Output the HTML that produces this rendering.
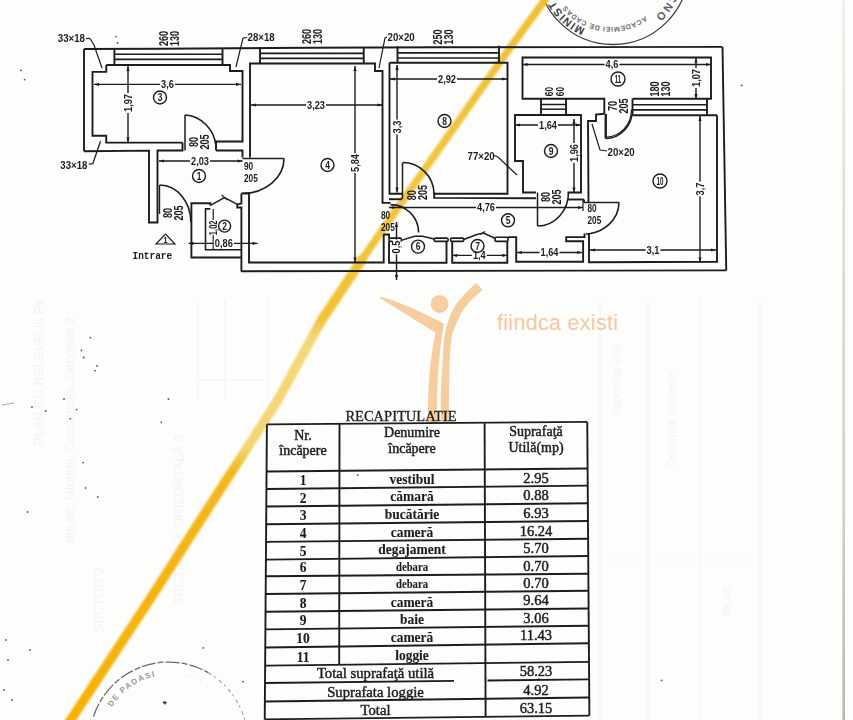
<!DOCTYPE html><html><head><meta charset="utf-8"><style>html,body{margin:0;padding:0;background:#fdfdfc;}svg{display:block}</style></head><body>
<svg width="853" height="720" viewBox="0 0 853 720">
<rect width="853" height="720" fill="#fdfdfc"/>
<defs><linearGradient id="eg" gradientUnits="userSpaceOnUse" x1="0" y1="0" x2="0" y2="720"><stop offset="0" stop-color="#efefec"/><stop offset="0.3" stop-color="#dcdcd8"/><stop offset="0.7" stop-color="#d0d0ca"/><stop offset="1" stop-color="#b8b8aa"/></linearGradient></defs>
<line x1="843.7" y1="0" x2="843.7" y2="720" stroke="url(#eg)" stroke-width="2.6"/>
<text x="0" y="0" transform="translate(43 372) rotate(-90)" font-family="Liberation Sans" font-size="13" text-anchor="middle" fill="#f4f4f2">PLAN CU RELEVEUL Pe</text>
<text x="0" y="0" transform="translate(74 430) rotate(-90)" font-family="Liberation Sans" font-size="13" text-anchor="middle" fill="#f4f4f2">din str. Mioriţei, Construcţia Zatogove 2</text>
<text x="0" y="0" transform="translate(183 520) rotate(-90)" font-family="Liberation Sans" font-size="13" text-anchor="middle" fill="#f4f4f2">SECŢIUNEA ORIZONTALĂ  3</text>
<text x="0" y="0" transform="translate(103 600) rotate(-90)" font-family="Liberation Sans" font-size="13" text-anchor="middle" fill="#f4f4f2">SECTOR 2</text>
<g stroke="#f4f4f2" stroke-width="1.2" fill="none"><path d="M198,300 V400 M225,300 V400 M268,300 V400 M198,380 H268"/><path d="M600,300 V720 M648,300 V720 M700,300 V720 M760,300 V720 M600,560 H760"/></g>
<text x="0" y="0" transform="translate(620 380) rotate(-90)" font-family="Liberation Sans" font-size="11" text-anchor="middle" fill="#f4f4f2">Suprafaţa utilă</text>
<text x="0" y="0" transform="translate(675 420) rotate(-90)" font-family="Liberation Sans" font-size="11" text-anchor="middle" fill="#f4f4f2">Denumire încăpere</text>
<text x="0" y="0" transform="translate(730 600) rotate(-90)" font-family="Liberation Sans" font-size="11" text-anchor="middle" fill="#f4f4f2">Nr. crt.</text>
<circle cx="90.4" cy="337.7" r="0.9" fill="#555"/>
<circle cx="81.5" cy="350.5" r="0.9" fill="#555"/>
<circle cx="83.7" cy="357.5" r="0.9" fill="#555"/>
<circle cx="97" cy="366" r="0.9" fill="#555"/>
<circle cx="95" cy="370.6" r="0.9" fill="#555"/>
<circle cx="32" cy="407" r="0.9" fill="#555"/>
<circle cx="76.7" cy="409.6" r="0.9" fill="#555"/>
<circle cx="70.3" cy="418.6" r="0.9" fill="#555"/>
<circle cx="168.4" cy="399" r="0.9" fill="#555"/>
<circle cx="161.3" cy="422.4" r="0.9" fill="#555"/>
<circle cx="83" cy="462.6" r="0.9" fill="#555"/>
<circle cx="85.6" cy="488" r="0.9" fill="#555"/>
<circle cx="203.3" cy="647.9" r="0.9" fill="#555"/>
<circle cx="163.7" cy="702.7" r="0.9" fill="#555"/>
<circle cx="243" cy="681.7" r="0.9" fill="#555"/>
<circle cx="357.8" cy="474.9" r="0.9" fill="#555"/>
<circle cx="539" cy="679" r="0.9" fill="#555"/>
<circle cx="116" cy="36.6" r="0.9" fill="#555"/>
<circle cx="117.6" cy="43" r="0.9" fill="#555"/>
<circle cx="21" cy="70.4" r="0.9" fill="#555"/>
<circle cx="24.6" cy="79.6" r="0.9" fill="#555"/>
<circle cx="741.7" cy="85.4" r="0.9" fill="#555"/>
<circle cx="661.6" cy="680.4" r="0.9" fill="#555"/>
<circle cx="64" cy="399" r="0.9" fill="#555"/>
<circle cx="45.8" cy="411" r="0.9" fill="#555"/>
<circle cx="27.5" cy="512" r="0.9" fill="#555"/>
<circle cx="97.8" cy="497" r="0.9" fill="#555"/>
<circle cx="6" cy="640" r="0.9" fill="#555"/>
<circle cx="8" cy="660" r="0.9" fill="#555"/>
<circle cx="4" cy="690" r="0.9" fill="#555"/>
<circle cx="12" cy="700" r="0.9" fill="#555"/>
<circle cx="30" cy="650" r="0.9" fill="#555"/>
<path d="M2,405 L14,403" stroke="#aaa" stroke-width="1"/>
<defs><path id="stk" d="M540,-31 A75,75 0 0 0 690,-31"/><path id="stk2" d="M678,-31 A65,65 0 0 1 548,-31"/><path id="stk3" d="M671,-31 A58,58 0 0 1 555,-31"/><path id="stb" d="M102.6,741 A66,66 0 0 1 234.6,741"/><filter id="soft" x="-5%" y="-5%" width="110%" height="110%"><feGaussianBlur stdDeviation="0.9"/></filter><linearGradient id="yg" gradientUnits="userSpaceOnUse" x1="0" y1="0" x2="0" y2="720"><stop offset="0" stop-color="#efc035"/><stop offset="0.25" stop-color="#f0c642"/><stop offset="0.44" stop-color="#f0c232"/><stop offset="0.47" stop-color="#f3d877"/><stop offset="0.62" stop-color="#f3d673"/><stop offset="0.655" stop-color="#f2b81e"/><stop offset="1" stop-color="#f6b002"/></linearGradient></defs>
<circle cx="613" cy="-31" r="75.5" fill="none" stroke="#3e414c" stroke-width="1.3"/>
<g transform="translate(-2,0)"><text font-family="Liberation Sans" font-size="11" font-weight="bold" fill="#3e414c" letter-spacing="1"><textPath href="#stk2" startOffset="63%">MINIST</textPath></text>
<text font-family="Liberation Sans" font-size="7" font-weight="bold" fill="#6a6d76" letter-spacing="0.6"><textPath href="#stk3" startOffset="30%">ACADEMIEI DE CADAS</textPath></text>
<text font-family="Liberation Sans" font-size="11" font-weight="bold" fill="#5a5d66" letter-spacing="2"><textPath href="#stk2" startOffset="12%">CNO</textPath></text></g>
<path d="M93.5,716.6 A79,79 0 0 1 208.1,672.6" fill="none" stroke="#6a6a6a" stroke-width="1.3" stroke-dasharray="14 2 6 2"/>
<path d="M208.1,672.6 A79,79 0 0 1 247.6,741" fill="none" stroke="#9c9c9c" stroke-width="1.1" stroke-dasharray="4 3 2 4"/>
<text font-family="Liberation Sans" font-size="8" font-weight="bold" fill="#999" letter-spacing="1.4"><textPath href="#stb" startOffset="17%">DE PADASI</textPath></text>
<text font-family="Liberation Sans" font-size="7.5" fill="#b0b0b0" letter-spacing="1.5"><textPath href="#stb" startOffset="58%">· · · ·</textPath></text>
<path d="M163,701 l4,1 l-2,3 z" fill="#333"/>
<circle cx="439.6" cy="303.9" r="9" fill="#f7cda0"/>
<path d="M379.7,296.5 C395.3,300.4 420.5,311.1 443.8,323.7 L437,333.4 L379.7,297.9 Z" fill="#f7cda0"/>
<path d="M437,326 L443.8,323.7 Q436,370 437,423 L428,423 Q427,368 437,326 Z" fill="#f7cda0"/>
<path d="M482.7,289.7 C480.67,291.58 474.07,297.12 470.5,301 C466.93,304.88 463.80,308.83 461.3,313 C458.80,317.17 457.12,321.78 455.5,326 C453.88,330.22 452.60,330.97 451.6,338.3 C450.60,345.63 449.95,355.88 449.5,370 C449.05,384.12 449.00,414.17 448.9,423 L440.9,423 C440.92,417.50 440.72,400.50 441,390 C441.28,379.50 441.97,369.27 442.6,360 C443.23,350.73 443.68,341.40 444.8,334.4 C445.92,327.40 447.52,322.85 449.3,318 C451.08,313.15 452.97,309.22 455.5,305.3 C458.03,301.38 461.10,298.23 464.5,294.5 C467.90,290.77 474.00,284.83 475.9,282.9 Z" fill="#f7cda0"/>
<text x="0" y="0" font-family="Liberation Sans" font-size="21.5" text-anchor="start" font-weight="normal" fill="#f3c8a2" transform="translate(497 330)" letter-spacing="0.3">fiindca existi</text>
<path d="M547,-3 L512,45 L403.3,200 L361.7,260" fill="none" stroke="url(#yg)" stroke-width="7.5" stroke-linecap="round" stroke-linejoin="round" filter="url(#soft)"/>
<path d="M361.7,260 L321.7,320 L277.8,400 L245.8,450 L213.5,500 L149.5,600 L70.7,720 L68,724" fill="none" stroke="url(#yg)" stroke-width="9.5" stroke-linecap="round" stroke-linejoin="round" filter="url(#soft)"/>
<defs><filter id="scan" x="-2%" y="-2%" width="104%" height="104%"><feGaussianBlur stdDeviation="0.45"/></filter></defs><g filter="url(#scan)">
<polyline points="84,49 160,48.7 310,47.8 440,47.3 722.5,46.9" fill="none" stroke="#1d1d1d" stroke-width="1.9" stroke-linejoin="miter"/>
<line x1="84" y1="49" x2="84" y2="151.3" stroke="#1d1d1d" stroke-width="1.9"/>
<polyline points="84,151.3 149,150.6 149,222.5 157.5,222.5 157.5,150.5 182.5,150.5 182.5,142.5" fill="none" stroke="#1d1d1d" stroke-width="1.9" stroke-linejoin="miter"/>
<polyline points="216,150.5 242.5,150.5 242.5,157.5" fill="none" stroke="#1d1d1d" stroke-width="1.9" stroke-linejoin="miter"/>
<line x1="722.5" y1="46.9" x2="726.25" y2="270.4" stroke="#1d1d1d" stroke-width="1.9"/>
<line x1="241" y1="271.2" x2="726.25" y2="270.4" stroke="#1d1d1d" stroke-width="1.9"/>
<polyline points="106.25,65 106.25,71.9 92.5,71.9 92.5,135.8 106.2,135.8 106.2,142.6 182.5,142.6" fill="none" stroke="#1d1d1d" stroke-width="1.9" stroke-linejoin="miter"/>
<polyline points="216,150.5 216,141.5 242.5,141.5 242.5,71 230,71 230,65 106.25,65" fill="none" stroke="#1d1d1d" stroke-width="1.9" stroke-linejoin="miter"/>
<line x1="114.4" y1="54.3" x2="222.5" y2="54.3" stroke="#1d1d1d" stroke-width="1.6"/>
<line x1="114.4" y1="59.4" x2="222.5" y2="59.4" stroke="#1d1d1d" stroke-width="1.6"/>
<line x1="114.4" y1="49" x2="114.4" y2="65" stroke="#1d1d1d" stroke-width="1.9"/>
<line x1="222.5" y1="49" x2="222.5" y2="65" stroke="#1d1d1d" stroke-width="1.9"/>
<line x1="185" y1="115" x2="185" y2="150.5" stroke="#1d1d1d" stroke-width="1.5"/>
<path d="M185,115 A33,35 0 0 1 216,146" fill="none" stroke="#1d1d1d" stroke-width="1.6"/>
<polyline points="250,157.5 250,63.5 375,63.5 375,71 382.5,71 382.5,202.9 390.6,202.9" fill="none" stroke="#1d1d1d" stroke-width="1.9" stroke-linejoin="miter"/>
<line x1="260" y1="53.4" x2="363.75" y2="53.4" stroke="#1d1d1d" stroke-width="1.6"/>
<line x1="260" y1="58.4" x2="363.75" y2="58.4" stroke="#1d1d1d" stroke-width="1.6"/>
<line x1="260" y1="47.3" x2="260" y2="63.5" stroke="#1d1d1d" stroke-width="1.9"/>
<line x1="363.75" y1="46.9" x2="363.75" y2="63.5" stroke="#1d1d1d" stroke-width="1.9"/>
<polyline points="249,192.5 249,262.5 383.7,262.5 383.7,234" fill="none" stroke="#1d1d1d" stroke-width="1.9" stroke-linejoin="miter"/>
<line x1="242.5" y1="158.5" x2="284" y2="158.5" stroke="#1d1d1d" stroke-width="1.5"/>
<path d="M284,158.5 A42,35 0 0 1 242.5,193.5" fill="none" stroke="#1d1d1d" stroke-width="1.6"/>
<line x1="159.5" y1="185" x2="159.5" y2="214" stroke="#1d1d1d" stroke-width="1.4"/>
<path d="M159.7,185 A31.2,37.3 0 0 1 190.9,222.3" fill="none" stroke="#1d1d1d" stroke-width="1.6"/>
<polyline points="241.4,193.4 249.2,193.4" fill="none" stroke="#1d1d1d" stroke-width="1.9" stroke-linejoin="miter"/>
<polyline points="241.4,193.4 241.4,203.5 237.3,204.4 237.3,207.5 241.4,207.5 241.4,271.5" fill="none" stroke="#1d1d1d" stroke-width="1.9" stroke-linejoin="miter"/>
<polyline points="210.4,205.4 210.4,203.2 191.4,203.2 191.4,257.5 241.4,257.5" fill="none" stroke="#1d1d1d" stroke-width="1.9" stroke-linejoin="miter"/>
<polyline points="210.4,208.9 205.5,208.9 205.5,249.7 241.4,249.7" fill="none" stroke="#1d1d1d" stroke-width="1.6" stroke-linejoin="miter"/>
<polyline points="210.4,205.4 224.5,197.6 237.3,204.4" fill="none" stroke="#1d1d1d" stroke-width="1.4" stroke-linejoin="miter"/>
<line x1="221.5" y1="195" x2="227.5" y2="200" stroke="#1d1d1d" stroke-width="1.2"/>
<line x1="213.2" y1="209" x2="213.2" y2="249.7" stroke="#1d1d1d" stroke-width="1.2"/>
<line x1="397.5" y1="52.9" x2="499" y2="52.9" stroke="#1d1d1d" stroke-width="1.6"/>
<line x1="397.5" y1="58" x2="499" y2="58" stroke="#1d1d1d" stroke-width="1.6"/>
<line x1="397.5" y1="46.3" x2="397.5" y2="62.8" stroke="#1d1d1d" stroke-width="1.9"/>
<line x1="499" y1="45.8" x2="499" y2="62.8" stroke="#1d1d1d" stroke-width="1.9"/>
<polyline points="389.5,62.8 507.5,62.8 507.5,193.75 434,193.75" fill="none" stroke="#1d1d1d" stroke-width="1.9" stroke-linejoin="miter"/>
<polyline points="402,193.75 389.5,193.75 389.5,62.8" fill="none" stroke="#1d1d1d" stroke-width="1.9" stroke-linejoin="miter"/>
<line x1="402.5" y1="163" x2="402.5" y2="199" stroke="#1d1d1d" stroke-width="1.5"/>
<path d="M402.5,162.5 A31.5,31.5 0 0 1 434,193.75" fill="none" stroke="#1d1d1d" stroke-width="1.6"/>
<polyline points="434.2,192.5 434.2,197.9 536,198.2" fill="none" stroke="#1d1d1d" stroke-width="1.9" stroke-linejoin="miter"/>
<line x1="389" y1="199.2" x2="402.1" y2="199.2" stroke="#1d1d1d" stroke-width="1.9"/>
<line x1="567.5" y1="199.5" x2="584" y2="199.5" stroke="#1d1d1d" stroke-width="1.9"/>
<path d="M390.6,204.6 A28,28 0 0 1 418.6,232.6" fill="none" stroke="#1d1d1d" stroke-width="1.6"/>
<polyline points="383.5,234.5 389,234.5 389,238.1" fill="none" stroke="#1d1d1d" stroke-width="1.9" stroke-linejoin="miter"/>
<rect x="389" y="238.1" width="12.300000000000011" height="3.3000000000000114" rx="1.2" fill="none" stroke="#1d1d1d" stroke-width="1.6"/>
<rect x="434.2" y="238.1" width="13.900000000000034" height="3.3000000000000114" rx="1.2" fill="none" stroke="#1d1d1d" stroke-width="1.6"/>
<rect x="450.6" y="238.1" width="13.099999999999966" height="3.3000000000000114" rx="1.2" fill="none" stroke="#1d1d1d" stroke-width="1.6"/>
<rect x="495" y="237.3" width="13" height="4.099999999999994" rx="1.2" fill="none" stroke="#1d1d1d" stroke-width="1.6"/>
<polyline points="401.3,240.4 414.5,236.2 422.7,236.2 434.2,239" fill="none" stroke="#1d1d1d" stroke-width="1.5" stroke-linejoin="miter"/>
<polyline points="463.7,239.5 476.9,234.5 483.5,233 495,238.3" fill="none" stroke="#1d1d1d" stroke-width="1.5" stroke-linejoin="miter"/>
<line x1="480" y1="234.5" x2="485" y2="231.5" stroke="#1d1d1d" stroke-width="1.2"/>
<polyline points="389,241.4 389,262.8 446.5,262.8 446.5,241.4" fill="none" stroke="#1d1d1d" stroke-width="1.9" stroke-linejoin="miter"/>
<polyline points="452.2,241.4 452.2,262.8 507.3,262.8 507.3,241.4" fill="none" stroke="#1d1d1d" stroke-width="1.9" stroke-linejoin="miter"/>
<polyline points="508,237.1 516.2,237.1 516.2,261.8 583.1,261.8 583.1,241.3 566.2,241.3 566.2,237.1 584.5,237.1 584.5,233.6" fill="none" stroke="#1d1d1d" stroke-width="1.9" stroke-linejoin="miter"/>
<line x1="583" y1="200" x2="583" y2="211" stroke="#1d1d1d" stroke-width="1.2"/>
<polyline points="536,192.5 523,192.5 523,161 515,161 515,115 581,115 581,192.5 567.5,192.5" fill="none" stroke="#1d1d1d" stroke-width="1.9" stroke-linejoin="miter"/>
<line x1="537.5" y1="192.5" x2="537.5" y2="226" stroke="#1d1d1d" stroke-width="1.5"/>
<path d="M537.5,226 A31,33.5 0 0 0 568.5,192.5" fill="none" stroke="#1d1d1d" stroke-width="1.6"/>
<polyline points="541,99 541,115" fill="none" stroke="#1d1d1d" stroke-width="1.9" stroke-linejoin="miter"/>
<polyline points="566,99 566,115" fill="none" stroke="#1d1d1d" stroke-width="1.9" stroke-linejoin="miter"/>
<line x1="541" y1="104.5" x2="566" y2="104.5" stroke="#1d1d1d" stroke-width="1.5"/>
<line x1="541" y1="109.2" x2="566" y2="109.2" stroke="#1d1d1d" stroke-width="1.5"/>
<polyline points="604.3,113.8 604.3,98.8 522.5,98.8 522.5,57.5 711,57.5 711,98.8 632.5,98.8" fill="none" stroke="#1d1d1d" stroke-width="1.9" stroke-linejoin="miter"/>
<line x1="632.5" y1="104.8" x2="707" y2="104.8" stroke="#1d1d1d" stroke-width="1.6"/>
<line x1="632.5" y1="109.9" x2="707" y2="109.9" stroke="#1d1d1d" stroke-width="1.6"/>
<line x1="632.5" y1="115.3" x2="717" y2="115.3" stroke="#1d1d1d" stroke-width="1.9"/>
<line x1="632.5" y1="98.8" x2="632.5" y2="115.3" stroke="#1d1d1d" stroke-width="1.9"/>
<line x1="707" y1="98.8" x2="707" y2="115.3" stroke="#1d1d1d" stroke-width="1.9"/>
<polyline points="717,115.3 717,261.7 589,262.2 589,234" fill="none" stroke="#1d1d1d" stroke-width="1.9" stroke-linejoin="miter"/>
<polyline points="588.5,202.5 588,121 596,121 596,114.5 604.3,113.8" fill="none" stroke="#1d1d1d" stroke-width="1.9" stroke-linejoin="miter"/>
<line x1="584" y1="202.5" x2="619" y2="202.5" stroke="#1d1d1d" stroke-width="1.5"/>
<path d="M619,202.5 A35,32 0 0 1 586,234" fill="none" stroke="#1d1d1d" stroke-width="1.6"/>
<polyline points="584,199.5 584,202.5" fill="none" stroke="#1d1d1d" stroke-width="1.9" stroke-linejoin="miter"/>
<line x1="605.75" y1="113.8" x2="605.75" y2="138.6" stroke="#1d1d1d" stroke-width="2.4"/>
<path d="M605.75,138.6 A26.75,29.2 0 0 0 632.5,109.4" fill="none" stroke="#1d1d1d" stroke-width="1.5"/>
<path d="M606.5,137 A25,27.6 0 0 0 631.5,109.4" fill="none" stroke="#1d1d1d" stroke-width="1.2"/>
<line x1="94" y1="84.4" x2="241" y2="84.4" stroke="#1d1d1d" stroke-width="1.4"/>
<path d="M94,84.4 l5,-1.6 v3.2 z M241,84.4 l-5,-1.6 v3.2 z" fill="#1d1d1d"/>
<rect x="160.0782" y="80.4" width="14.8436" height="8" fill="#fdfdfc"/>
<text x="0" y="0" font-family="Liberation Sans" font-size="10.5" text-anchor="middle" font-weight="bold" fill="#1d1d1d" transform="translate(167.5 88.2) scale(0.88 1)" >3,6</text>
<line x1="128" y1="66" x2="128" y2="142.5" stroke="#1d1d1d" stroke-width="1.4"/>
<path d="M128,66 l-1.6,5 h3.2 z M128,142.5 l-1.6,-5 h3.2 z" fill="#1d1d1d"/>
<rect x="124" y="93.00948" width="8" height="19.981040000000004" fill="#fdfdfc"/>
<text x="0" y="0" font-family="Liberation Sans" font-size="10.5" text-anchor="middle" font-weight="bold" fill="#1d1d1d" transform="translate(131.8 103) rotate(-90) scale(0.88 1)" >1,97</text>
<line x1="159" y1="161" x2="242.5" y2="161" stroke="#1d1d1d" stroke-width="1.4"/>
<path d="M159,161 l5,-1.6 v3.2 z M242.5,161 l-5,-1.6 v3.2 z" fill="#1d1d1d"/>
<rect x="190.00948" y="157" width="19.981040000000004" height="8" fill="#fdfdfc"/>
<text x="0" y="0" font-family="Liberation Sans" font-size="10.5" text-anchor="middle" font-weight="bold" fill="#1d1d1d" transform="translate(200 164.8) scale(0.88 1)" >2,03</text>
<line x1="251" y1="105" x2="382.5" y2="105" stroke="#1d1d1d" stroke-width="1.4"/>
<path d="M251,105 l5,-1.6 v3.2 z M382.5,105 l-5,-1.6 v3.2 z" fill="#1d1d1d"/>
<rect x="306.00948" y="101" width="19.981040000000004" height="8" fill="#fdfdfc"/>
<text x="0" y="0" font-family="Liberation Sans" font-size="10.5" text-anchor="middle" font-weight="bold" fill="#1d1d1d" transform="translate(316 108.8) scale(0.88 1)" >3,23</text>
<line x1="355" y1="66" x2="355" y2="262.5" stroke="#1d1d1d" stroke-width="1.4"/>
<path d="M355,66 l-1.6,5 h3.2 z M355,262.5 l-1.6,-5 h3.2 z" fill="#1d1d1d"/>
<rect x="351" y="153.00948" width="8" height="19.981040000000004" fill="#fdfdfc"/>
<text x="0" y="0" font-family="Liberation Sans" font-size="10.5" text-anchor="middle" font-weight="bold" fill="#1d1d1d" transform="translate(358.8 163) rotate(-90) scale(0.88 1)" >5,84</text>
<line x1="397" y1="65" x2="397" y2="192.5" stroke="#1d1d1d" stroke-width="1.4"/>
<path d="M397,65 l-1.6,5 h3.2 z M397,192.5 l-1.6,-5 h3.2 z" fill="#1d1d1d"/>
<rect x="393" y="119.5782" width="8" height="14.8436" fill="#fdfdfc"/>
<text x="0" y="0" font-family="Liberation Sans" font-size="10.5" text-anchor="middle" font-weight="bold" fill="#1d1d1d" transform="translate(400.8 127) rotate(-90) scale(0.88 1)" >3,3</text>
<line x1="390" y1="79" x2="507" y2="79" stroke="#1d1d1d" stroke-width="1.4"/>
<path d="M390,79 l5,-1.6 v3.2 z M507,79 l-5,-1.6 v3.2 z" fill="#1d1d1d"/>
<rect x="437.00948" y="75" width="19.981040000000004" height="8" fill="#fdfdfc"/>
<text x="0" y="0" font-family="Liberation Sans" font-size="10.5" text-anchor="middle" font-weight="bold" fill="#1d1d1d" transform="translate(447 82.8) scale(0.88 1)" >2,92</text>
<line x1="515" y1="125" x2="581" y2="125" stroke="#1d1d1d" stroke-width="1.4"/>
<path d="M515,125 l5,-1.6 v3.2 z M581,125 l-5,-1.6 v3.2 z" fill="#1d1d1d"/>
<rect x="538.00948" y="121" width="19.981040000000004" height="8" fill="#fdfdfc"/>
<text x="0" y="0" font-family="Liberation Sans" font-size="10.5" text-anchor="middle" font-weight="bold" fill="#1d1d1d" transform="translate(548 128.8) scale(0.88 1)" >1,64</text>
<line x1="574" y1="119" x2="574" y2="192.5" stroke="#1d1d1d" stroke-width="1.4"/>
<path d="M574,119 l-1.6,5 h3.2 z M574,192.5 l-1.6,-5 h3.2 z" fill="#1d1d1d"/>
<rect x="570" y="143.00948" width="8" height="19.981040000000004" fill="#fdfdfc"/>
<text x="0" y="0" font-family="Liberation Sans" font-size="10.5" text-anchor="middle" font-weight="bold" fill="#1d1d1d" transform="translate(577.8 153) rotate(-90) scale(0.88 1)" >1,96</text>
<line x1="522.5" y1="64.5" x2="711" y2="64.5" stroke="#1d1d1d" stroke-width="1.4"/>
<path d="M522.5,64.5 l5,-1.6 v3.2 z M711,64.5 l-5,-1.6 v3.2 z" fill="#1d1d1d"/>
<rect x="604.5782" y="60.5" width="14.8436" height="8" fill="#fdfdfc"/>
<text x="0" y="0" font-family="Liberation Sans" font-size="10.5" text-anchor="middle" font-weight="bold" fill="#1d1d1d" transform="translate(612 68.3) scale(0.88 1)" >4,6</text>
<line x1="696" y1="57.5" x2="696" y2="99" stroke="#1d1d1d" stroke-width="1.4"/>
<path d="M696,57.5 l-1.6,5 h3.2 z M696,99 l-1.6,-5 h3.2 z" fill="#1d1d1d"/>
<rect x="692" y="68.00948" width="8" height="19.981040000000004" fill="#fdfdfc"/>
<text x="0" y="0" font-family="Liberation Sans" font-size="10.5" text-anchor="middle" font-weight="bold" fill="#1d1d1d" transform="translate(699.8 78) rotate(-90) scale(0.88 1)" >1,07</text>
<line x1="389" y1="207.5" x2="583" y2="207.5" stroke="#1d1d1d" stroke-width="1.4"/>
<path d="M389,207.5 l5,-1.6 v3.2 z M583,207.5 l-5,-1.6 v3.2 z" fill="#1d1d1d"/>
<rect x="476.00948" y="203.5" width="19.981040000000004" height="8" fill="#fdfdfc"/>
<text x="0" y="0" font-family="Liberation Sans" font-size="10.5" text-anchor="middle" font-weight="bold" fill="#1d1d1d" transform="translate(486 211.3) scale(0.88 1)" >4,76</text>
<line x1="452.2" y1="255.4" x2="507.3" y2="255.4" stroke="#1d1d1d" stroke-width="1.4"/>
<path d="M452.2,255.4 l5,-1.6 v3.2 z M507.3,255.4 l-5,-1.6 v3.2 z" fill="#1d1d1d"/>
<rect x="471.8782" y="251.4" width="14.8436" height="8" fill="#fdfdfc"/>
<text x="0" y="0" font-family="Liberation Sans" font-size="10.5" text-anchor="middle" font-weight="bold" fill="#1d1d1d" transform="translate(479.3 259.2) scale(0.88 1)" >1,4</text>
<line x1="517" y1="252.5" x2="582" y2="252.5" stroke="#1d1d1d" stroke-width="1.4"/>
<path d="M517,252.5 l5,-1.6 v3.2 z M582,252.5 l-5,-1.6 v3.2 z" fill="#1d1d1d"/>
<rect x="539.50948" y="248.5" width="19.981040000000004" height="8" fill="#fdfdfc"/>
<text x="0" y="0" font-family="Liberation Sans" font-size="10.5" text-anchor="middle" font-weight="bold" fill="#1d1d1d" transform="translate(549.5 256.3) scale(0.88 1)" >1,64</text>
<line x1="590" y1="250" x2="716" y2="250" stroke="#1d1d1d" stroke-width="1.4"/>
<path d="M590,250 l5,-1.6 v3.2 z M716,250 l-5,-1.6 v3.2 z" fill="#1d1d1d"/>
<rect x="645.5782" y="246" width="14.8436" height="8" fill="#fdfdfc"/>
<text x="0" y="0" font-family="Liberation Sans" font-size="10.5" text-anchor="middle" font-weight="bold" fill="#1d1d1d" transform="translate(653 253.8) scale(0.88 1)" >3,1</text>
<line x1="700" y1="116" x2="700" y2="262.5" stroke="#1d1d1d" stroke-width="1.4"/>
<path d="M700,116 l-1.6,5 h3.2 z M700,262.5 l-1.6,-5 h3.2 z" fill="#1d1d1d"/>
<rect x="696" y="181.5782" width="8" height="14.8436" fill="#fdfdfc"/>
<text x="0" y="0" font-family="Liberation Sans" font-size="10.5" text-anchor="middle" font-weight="bold" fill="#1d1d1d" transform="translate(703.8 189) rotate(-90) scale(0.88 1)" >3,7</text>
<line x1="396.5" y1="222" x2="396.5" y2="280" stroke="#1d1d1d" stroke-width="1.4"/>
<path d="M396.5,222 l-1.6,5 h3.2 z M396.5,280 l-1.6,-5 h3.2 z" fill="#1d1d1d"/>
<rect x="392.5" y="239.5782" width="8" height="14.8436" fill="#fdfdfc"/>
<text x="0" y="0" font-family="Liberation Sans" font-size="10.5" text-anchor="middle" font-weight="bold" fill="#1d1d1d" transform="translate(400.3 247) rotate(-90) scale(0.88 1)" >0,5</text>
<rect x="208.5" y="220" width="9" height="15" fill="#fdfdfc"/>
<text x="0" y="0" font-family="Liberation Sans" font-size="10.5" text-anchor="middle" font-weight="bold" fill="#1d1d1d" transform="translate(216.8 227.8) rotate(-90) scale(0.72 1)" >1,02</text>
<line x1="188.6" y1="243.4" x2="257.6" y2="243.4" stroke="#1d1d1d" stroke-width="1.4"/>
<path d="M188.6,243.4 l5,-1.6 v3.2 z M257.6,243.4 l-5,-1.6 v3.2 z" fill="#1d1d1d"/>
<rect x="213.80948" y="239.4" width="19.981040000000004" height="8" fill="#fdfdfc"/>
<text x="0" y="0" font-family="Liberation Sans" font-size="10.5" text-anchor="middle" font-weight="bold" fill="#1d1d1d" transform="translate(223.8 247.20000000000002) scale(0.88 1)" >0,86</text>
<circle cx="160" cy="97.5" r="6.5" fill="none" stroke="#1d1d1d" stroke-width="1.4"/>
<text x="0" y="0" font-family="Liberation Sans" font-size="10" text-anchor="middle" font-weight="bold" fill="#1d1d1d" transform="translate(160 101.1) scale(0.85 1)" >3</text>
<circle cx="199" cy="176" r="6.5" fill="none" stroke="#1d1d1d" stroke-width="1.4"/>
<text x="0" y="0" font-family="Liberation Sans" font-size="10" text-anchor="middle" font-weight="bold" fill="#1d1d1d" transform="translate(199 179.6) scale(0.85 1)" >1</text>
<circle cx="224.6" cy="226.1" r="6" fill="none" stroke="#1d1d1d" stroke-width="1.4"/>
<text x="0" y="0" font-family="Liberation Sans" font-size="10" text-anchor="middle" font-weight="bold" fill="#1d1d1d" transform="translate(224.6 229.7) scale(0.85 1)" >2</text>
<circle cx="327.5" cy="165" r="6.5" fill="none" stroke="#1d1d1d" stroke-width="1.4"/>
<text x="0" y="0" font-family="Liberation Sans" font-size="10" text-anchor="middle" font-weight="bold" fill="#1d1d1d" transform="translate(327.5 168.6) scale(0.85 1)" >4</text>
<circle cx="444.5" cy="121" r="6.5" fill="none" stroke="#1d1d1d" stroke-width="1.4"/>
<text x="0" y="0" font-family="Liberation Sans" font-size="10" text-anchor="middle" font-weight="bold" fill="#1d1d1d" transform="translate(444.5 124.6) scale(0.85 1)" >8</text>
<circle cx="551" cy="151" r="6.5" fill="none" stroke="#1d1d1d" stroke-width="1.4"/>
<text x="0" y="0" font-family="Liberation Sans" font-size="10" text-anchor="middle" font-weight="bold" fill="#1d1d1d" transform="translate(551 154.6) scale(0.85 1)" >9</text>
<circle cx="618" cy="79" r="7" fill="none" stroke="#1d1d1d" stroke-width="1.4"/>
<text x="0" y="0" font-family="Liberation Sans" font-size="10" text-anchor="middle" font-weight="bold" fill="#1d1d1d" transform="translate(618 82.6) scale(0.62 1)" >11</text>
<circle cx="660" cy="181" r="7" fill="none" stroke="#1d1d1d" stroke-width="1.4"/>
<text x="0" y="0" font-family="Liberation Sans" font-size="10" text-anchor="middle" font-weight="bold" fill="#1d1d1d" transform="translate(660 184.6) scale(0.62 1)" >10</text>
<circle cx="508" cy="220.3" r="6.5" fill="none" stroke="#1d1d1d" stroke-width="1.4"/>
<text x="0" y="0" font-family="Liberation Sans" font-size="10" text-anchor="middle" font-weight="bold" fill="#1d1d1d" transform="translate(508 223.9) scale(0.85 1)" >5</text>
<circle cx="418" cy="246.6" r="6.5" fill="none" stroke="#1d1d1d" stroke-width="1.4"/>
<text x="0" y="0" font-family="Liberation Sans" font-size="10" text-anchor="middle" font-weight="bold" fill="#1d1d1d" transform="translate(418 250.2) scale(0.85 1)" >6</text>
<circle cx="477.5" cy="246" r="6.5" fill="none" stroke="#1d1d1d" stroke-width="1.4"/>
<text x="0" y="0" font-family="Liberation Sans" font-size="10" text-anchor="middle" font-weight="bold" fill="#1d1d1d" transform="translate(477.5 249.6) scale(0.85 1)" >7</text>
<text x="0" y="0" font-family="Liberation Sans" font-size="11" text-anchor="end" font-weight="bold" fill="#1d1d1d" transform="translate(85 41.7) scale(0.88 1)" >33×18</text>
<text x="0" y="0" font-family="Liberation Sans" font-size="11" text-anchor="end" font-weight="bold" fill="#1d1d1d" transform="translate(87.5 168.6) scale(0.88 1)" >33×18</text>
<line x1="86" y1="38.5" x2="90" y2="38.5" stroke="#1d1d1d" stroke-width="1.2"/>
<polyline points="90,38.5 94,45 102,68" fill="none" stroke="#1d1d1d" stroke-width="1.2" stroke-linejoin="miter"/>
<polyline points="88.9,164.2 92.8,163.6 100.5,141.2" fill="none" stroke="#1d1d1d" stroke-width="1.3" stroke-linejoin="miter"/>
<text x="0" y="0" font-family="Liberation Sans" font-size="11" text-anchor="start" font-weight="bold" fill="#1d1d1d" transform="translate(247.5 40.8) scale(0.88 1)" >28×18</text>
<polyline points="247,37.5 243,38 236,67" fill="none" stroke="#1d1d1d" stroke-width="1.2" stroke-linejoin="miter"/>
<text x="0" y="0" font-family="Liberation Sans" font-size="11" text-anchor="start" font-weight="bold" fill="#1d1d1d" transform="translate(387.5 40.8) scale(0.88 1)" >20×20</text>
<polyline points="387,37 385,38 379,68" fill="none" stroke="#1d1d1d" stroke-width="1.2" stroke-linejoin="miter"/>
<text x="0" y="0" font-family="Liberation Sans" font-size="12" text-anchor="middle" font-weight="bold" fill="#1d1d1d" transform="translate(168.3 38.5) rotate(-90) scale(0.76 1)" >260</text>
<text x="0" y="0" font-family="Liberation Sans" font-size="12" text-anchor="middle" font-weight="bold" fill="#1d1d1d" transform="translate(179.3 38.5) rotate(-90) scale(0.76 1)" >130</text>
<text x="0" y="0" font-family="Liberation Sans" font-size="12" text-anchor="middle" font-weight="bold" fill="#1d1d1d" transform="translate(311.3 36.5) rotate(-90) scale(0.76 1)" >260</text>
<text x="0" y="0" font-family="Liberation Sans" font-size="12" text-anchor="middle" font-weight="bold" fill="#1d1d1d" transform="translate(322.3 36.5) rotate(-90) scale(0.76 1)" >130</text>
<text x="0" y="0" font-family="Liberation Sans" font-size="12" text-anchor="middle" font-weight="bold" fill="#1d1d1d" transform="translate(441.8 37) rotate(-90) scale(0.76 1)" >250</text>
<text x="0" y="0" font-family="Liberation Sans" font-size="12" text-anchor="middle" font-weight="bold" fill="#1d1d1d" transform="translate(452.8 37) rotate(-90) scale(0.76 1)" >130</text>
<text x="0" y="0" font-family="Liberation Sans" font-size="12" text-anchor="middle" font-weight="bold" fill="#1d1d1d" transform="translate(659.3 89) rotate(-90) scale(0.76 1)" >180</text>
<text x="0" y="0" font-family="Liberation Sans" font-size="12" text-anchor="middle" font-weight="bold" fill="#1d1d1d" transform="translate(670.3 89) rotate(-90) scale(0.76 1)" >130</text>
<text x="0" y="0" font-family="Liberation Sans" font-size="11" text-anchor="middle" font-weight="bold" fill="#1d1d1d" transform="translate(553.3 91.5) rotate(-90) scale(0.76 1)" >60</text>
<text x="0" y="0" font-family="Liberation Sans" font-size="11" text-anchor="middle" font-weight="bold" fill="#1d1d1d" transform="translate(564.3 91.5) rotate(-90) scale(0.76 1)" >60</text>
<text x="0" y="0" font-family="Liberation Sans" font-size="12" text-anchor="middle" font-weight="bold" fill="#1d1d1d" transform="translate(198.3 142) rotate(-90) scale(0.76 1)" >80</text>
<text x="0" y="0" font-family="Liberation Sans" font-size="12" text-anchor="middle" font-weight="bold" fill="#1d1d1d" transform="translate(209.3 142) rotate(-90) scale(0.76 1)" >205</text>
<text x="0" y="0" font-family="Liberation Sans" font-size="12" text-anchor="middle" font-weight="bold" fill="#1d1d1d" transform="translate(171.8 213) rotate(-90) scale(0.76 1)" >80</text>
<text x="0" y="0" font-family="Liberation Sans" font-size="12" text-anchor="middle" font-weight="bold" fill="#1d1d1d" transform="translate(182.8 213) rotate(-90) scale(0.76 1)" >205</text>
<text x="0" y="0" font-family="Liberation Sans" font-size="12" text-anchor="middle" font-weight="bold" fill="#1d1d1d" transform="translate(416.3 195.3) rotate(-90) scale(0.76 1)" >80</text>
<text x="0" y="0" font-family="Liberation Sans" font-size="12" text-anchor="middle" font-weight="bold" fill="#1d1d1d" transform="translate(427.3 192.5) rotate(-90) scale(0.76 1)" >205</text>
<text x="0" y="0" font-family="Liberation Sans" font-size="12" text-anchor="middle" font-weight="bold" fill="#1d1d1d" transform="translate(549.8 197) rotate(-90) scale(0.76 1)" >80</text>
<text x="0" y="0" font-family="Liberation Sans" font-size="12" text-anchor="middle" font-weight="bold" fill="#1d1d1d" transform="translate(560.8 197) rotate(-90) scale(0.76 1)" >205</text>
<text x="0" y="0" font-family="Liberation Sans" font-size="12" text-anchor="middle" font-weight="bold" fill="#1d1d1d" transform="translate(617.3 106) rotate(-90) scale(0.76 1)" >70</text>
<text x="0" y="0" font-family="Liberation Sans" font-size="12" text-anchor="middle" font-weight="bold" fill="#1d1d1d" transform="translate(628.3 106) rotate(-90) scale(0.76 1)" >205</text>
<text x="0" y="0" font-family="Liberation Sans" font-size="11" text-anchor="start" font-weight="bold" fill="#1d1d1d" transform="translate(244 170) scale(0.75 1)" >90</text>
<text x="0" y="0" font-family="Liberation Sans" font-size="11" text-anchor="start" font-weight="bold" fill="#1d1d1d" transform="translate(244 181.5) scale(0.75 1)" >205</text>
<text x="0" y="0" font-family="Liberation Sans" font-size="11" text-anchor="start" font-weight="bold" fill="#1d1d1d" transform="translate(381 218.5) scale(0.75 1)" >80</text>
<text x="0" y="0" font-family="Liberation Sans" font-size="11" text-anchor="start" font-weight="bold" fill="#1d1d1d" transform="translate(381 230.5) scale(0.75 1)" >205</text>
<text x="0" y="0" font-family="Liberation Sans" font-size="11" text-anchor="start" font-weight="bold" fill="#1d1d1d" transform="translate(587.5 211.5) scale(0.75 1)" >80</text>
<text x="0" y="0" font-family="Liberation Sans" font-size="11" text-anchor="start" font-weight="bold" fill="#1d1d1d" transform="translate(587.5 224) scale(0.75 1)" >205</text>
<text x="0" y="0" font-family="Liberation Sans" font-size="11" text-anchor="start" font-weight="bold" fill="#1d1d1d" transform="translate(467.5 159.5) scale(0.88 1)" >77×20</text>
<polyline points="493,155 498,157 517,175" fill="none" stroke="#1d1d1d" stroke-width="1.2" stroke-linejoin="miter"/>
<text x="0" y="0" font-family="Liberation Sans" font-size="11" text-anchor="start" font-weight="bold" fill="#1d1d1d" transform="translate(607.5 155.5) scale(0.88 1)" >20×20</text>
<polyline points="607,151 600,150 592,124" fill="none" stroke="#1d1d1d" stroke-width="1.2" stroke-linejoin="miter"/>
<text x="0" y="0" font-family="Liberation Mono" font-size="10.5" text-anchor="start" font-weight="bold" fill="#1d1d1d" transform="translate(132.5 258.5) scale(0.9 1)" >Intrare</text>
<polygon points="156,244 165.5,234 175,244" fill="none" stroke="#1d1d1d" stroke-width="1.2" stroke-linejoin="miter"/>
<text x="0" y="0" font-family="Liberation Sans" font-size="9" text-anchor="middle" font-weight="bold" fill="#1d1d1d" transform="translate(165.5 243.3) scale(0.8 1)" >1</text>
<line x1="266.8970847457627" y1="424.4" x2="587.249268707483" y2="421.9" stroke="#1d1d1d" stroke-width="1.9"/>
<line x1="264.7470847457627" y1="719.4" x2="589.397074829932" y2="715.6" stroke="#1d1d1d" stroke-width="1.9"/>
<line x1="266.9" y1="424.4" x2="264.75" y2="719.4" stroke="#1d1d1d" stroke-width="1.9"/>
<line x1="587.25" y1="421.9" x2="589.4" y2="715.6" stroke="#1d1d1d" stroke-width="1.9"/>
<line x1="266.553813559322" y1="471.5" x2="587.5900510204082" y2="468.5" stroke="#1d1d1d" stroke-width="1.9"/>
<line x1="266.42627118644066" y1="489" x2="587.7151020408163" y2="485.6" stroke="#1d1d1d" stroke-width="1.9"/>
<line x1="266.2987288135593" y1="506.5" x2="587.8445408163266" y2="503.3" stroke="#1d1d1d" stroke-width="1.9"/>
<line x1="266.1697288135593" y1="524.2" x2="587.9739795918367" y2="521" stroke="#1d1d1d" stroke-width="1.9"/>
<line x1="266.0407288135593" y1="541.9" x2="588.1037840136054" y2="538.75" stroke="#1d1d1d" stroke-width="1.9"/>
<line x1="265.9117288135593" y1="559.6" x2="588.2299319727891" y2="556" stroke="#1d1d1d" stroke-width="1.9"/>
<line x1="265.7903813559322" y1="576.25" x2="588.3597363945578" y2="573.75" stroke="#1d1d1d" stroke-width="1.9"/>
<line x1="265.66101694915255" y1="594" x2="588.4844217687074" y2="590.8" stroke="#1d1d1d" stroke-width="1.9"/>
<line x1="265.53201694915253" y1="611.7" x2="588.6138605442177" y2="608.5" stroke="#1d1d1d" stroke-width="1.9"/>
<line x1="265.4030169491525" y1="629.4" x2="588.7403741496598" y2="625.8" stroke="#1d1d1d" stroke-width="1.9"/>
<line x1="265.2711016949153" y1="647.5" x2="588.8683503401361" y2="643.3" stroke="#1d1d1d" stroke-width="1.9"/>
<line x1="265.139186440678" y1="665.6" x2="589.0043707482993" y2="661.9" stroke="#1d1d1d" stroke-width="1.9"/>
<line x1="265.01237288135593" y1="683" x2="454" y2="680.9046439628482" stroke="#1d1d1d" stroke-width="1.9"/>
<line x1="487.5" y1="680.5312693498452" x2="589.1323469387755" y2="679.4" stroke="#1d1d1d" stroke-width="1.9"/>
<line x1="264.87754237288135" y1="701.5" x2="589.2647108843537" y2="697.5" stroke="#1d1d1d" stroke-width="1.9"/>
<line x1="339.5" y1="423.9" x2="339.2" y2="664.7614860681115" stroke="#1d1d1d" stroke-width="1.9"/>
<line x1="484.6" y1="423.2" x2="485.6" y2="716.6" stroke="#1d1d1d" stroke-width="1.9"/>
<text x="0" y="0" font-family="Liberation Serif" font-size="14.5" text-anchor="middle" font-weight="normal" fill="#1d1d1d" transform="translate(401 420.8)" stroke="#1d1d1d" stroke-width="0.3">RECAPITULATIE</text>
<text x="0" y="0" font-family="Liberation Serif" font-size="14" text-anchor="middle" font-weight="normal" fill="#1d1d1d" transform="translate(303 439.61362229102167)" stroke="#1d1d1d" stroke-width="0.45">Nr.</text>
<text x="0" y="0" font-family="Liberation Serif" font-size="14" text-anchor="middle" font-weight="normal" fill="#1d1d1d" transform="translate(303 455.11362229102167)" stroke="#1d1d1d" stroke-width="0.45">încăpere</text>
<text x="0" y="0" font-family="Liberation Serif" font-size="14" text-anchor="middle" font-weight="normal" fill="#1d1d1d" transform="translate(412 437.26996904024764)" stroke="#1d1d1d" stroke-width="0.45">Denumire</text>
<text x="0" y="0" font-family="Liberation Serif" font-size="14" text-anchor="middle" font-weight="normal" fill="#1d1d1d" transform="translate(412 453.26996904024764)" stroke="#1d1d1d" stroke-width="0.45">încăpere</text>
<text x="0" y="0" font-family="Liberation Serif" font-size="14" text-anchor="middle" font-weight="normal" fill="#1d1d1d" transform="translate(536 436.31021671826625)" stroke="#1d1d1d" stroke-width="0.45">Suprafaţă</text>
<text x="0" y="0" font-family="Liberation Serif" font-size="14" text-anchor="middle" font-weight="normal" fill="#1d1d1d" transform="translate(536 452.31021671826625)" stroke="#1d1d1d" stroke-width="0.45">Utilă(mp)</text>
<text x="0" y="0" font-family="Liberation Serif" font-size="14.5" text-anchor="middle" font-weight="bold" fill="#1d1d1d" transform="translate(303 485.01052631578943) scale(0.93 1)" stroke="#1d1d1d" stroke-width="0.1">1</text>
<text x="0" y="0" font-family="Liberation Serif" font-size="14.5" text-anchor="middle" font-weight="bold" fill="#1d1d1d" transform="translate(412 483.86315789473684) scale(0.93 1)" stroke="#1d1d1d" stroke-width="0.1">vestibul</text>
<text x="0" y="0" font-family="Liberation Serif" font-size="14.5" text-anchor="middle" font-weight="normal" fill="#1d1d1d" transform="translate(536 482.5578947368421)" stroke="#1d1d1d" stroke-width="0.45">2.95</text>
<text x="0" y="0" font-family="Liberation Serif" font-size="14.5" text-anchor="middle" font-weight="bold" fill="#1d1d1d" transform="translate(303 502.5334365325077) scale(0.93 1)" stroke="#1d1d1d" stroke-width="0.1">2</text>
<text x="0" y="0" font-family="Liberation Serif" font-size="14.5" text-anchor="middle" font-weight="bold" fill="#1d1d1d" transform="translate(412 501.453560371517) scale(0.93 1)" stroke="#1d1d1d" stroke-width="0.1">cămară</text>
<text x="0" y="0" font-family="Liberation Serif" font-size="14.5" text-anchor="middle" font-weight="normal" fill="#1d1d1d" transform="translate(536 500.2250773993808)" stroke="#1d1d1d" stroke-width="0.45">0.88</text>
<text x="0" y="0" font-family="Liberation Serif" font-size="14.5" text-anchor="middle" font-weight="bold" fill="#1d1d1d" transform="translate(303 520.2334365325078) scale(0.93 1)" stroke="#1d1d1d" stroke-width="0.1">3</text>
<text x="0" y="0" font-family="Liberation Serif" font-size="14.5" text-anchor="middle" font-weight="bold" fill="#1d1d1d" transform="translate(412 519.1535603715171) scale(0.93 1)" stroke="#1d1d1d" stroke-width="0.1">bucătărie</text>
<text x="0" y="0" font-family="Liberation Serif" font-size="14.5" text-anchor="middle" font-weight="normal" fill="#1d1d1d" transform="translate(536 517.9250773993808)" stroke="#1d1d1d" stroke-width="0.45">6.93</text>
<text x="0" y="0" font-family="Liberation Serif" font-size="14.5" text-anchor="middle" font-weight="bold" fill="#1d1d1d" transform="translate(303 537.9391640866872) scale(0.93 1)" stroke="#1d1d1d" stroke-width="0.1">4</text>
<text x="0" y="0" font-family="Liberation Serif" font-size="14.5" text-anchor="middle" font-weight="bold" fill="#1d1d1d" transform="translate(412 536.876160990712) scale(0.93 1)" stroke="#1d1d1d" stroke-width="0.1">cameră</text>
<text x="0" y="0" font-family="Liberation Serif" font-size="14.5" text-anchor="middle" font-weight="normal" fill="#1d1d1d" transform="translate(536 535.6668730650155)" stroke="#1d1d1d" stroke-width="0.45">16.24</text>
<text x="0" y="0" font-family="Liberation Serif" font-size="14.5" text-anchor="middle" font-weight="bold" fill="#1d1d1d" transform="translate(303 555.5876160990712) scale(0.93 1)" stroke="#1d1d1d" stroke-width="0.1">5</text>
<text x="0" y="0" font-family="Liberation Serif" font-size="14.5" text-anchor="middle" font-weight="bold" fill="#1d1d1d" transform="translate(412 554.3727554179567) scale(0.93 1)" stroke="#1d1d1d" stroke-width="0.1">degajament</text>
<text x="0" y="0" font-family="Liberation Serif" font-size="14.5" text-anchor="middle" font-weight="normal" fill="#1d1d1d" transform="translate(536 552.9907120743034)" stroke="#1d1d1d" stroke-width="0.45">5.70</text>
<text x="0" y="0" font-family="Liberation Serif" font-size="14.5" text-anchor="middle" font-weight="bold" fill="#1d1d1d" transform="translate(303 572.3636222910217) scale(0.93 1)" stroke="#1d1d1d" stroke-width="0.1">6</text>
<text x="0" y="0" font-family="Liberation Serif" font-size="11.5" text-anchor="middle" font-weight="bold" fill="#1d1d1d" transform="translate(412 570.5199690402477) scale(0.93 1)" stroke="#1d1d1d" stroke-width="0.1">debara</text>
<text x="0" y="0" font-family="Liberation Serif" font-size="14.5" text-anchor="middle" font-weight="normal" fill="#1d1d1d" transform="translate(536 570.5602167182662)" stroke="#1d1d1d" stroke-width="0.45">0.70</text>
<text x="0" y="0" font-family="Liberation Serif" font-size="14.5" text-anchor="middle" font-weight="bold" fill="#1d1d1d" transform="translate(303 590.0334365325077) scale(0.93 1)" stroke="#1d1d1d" stroke-width="0.1">7</text>
<text x="0" y="0" font-family="Liberation Serif" font-size="11.5" text-anchor="middle" font-weight="bold" fill="#1d1d1d" transform="translate(412 587.953560371517) scale(0.93 1)" stroke="#1d1d1d" stroke-width="0.1">debara</text>
<text x="0" y="0" font-family="Liberation Serif" font-size="14.5" text-anchor="middle" font-weight="normal" fill="#1d1d1d" transform="translate(536 587.7250773993808)" stroke="#1d1d1d" stroke-width="0.45">0.70</text>
<text x="0" y="0" font-family="Liberation Serif" font-size="14.5" text-anchor="middle" font-weight="bold" fill="#1d1d1d" transform="translate(303 607.7334365325078) scale(0.93 1)" stroke="#1d1d1d" stroke-width="0.1">8</text>
<text x="0" y="0" font-family="Liberation Serif" font-size="14.5" text-anchor="middle" font-weight="bold" fill="#1d1d1d" transform="translate(412 606.6535603715171) scale(0.93 1)" stroke="#1d1d1d" stroke-width="0.1">cameră</text>
<text x="0" y="0" font-family="Liberation Serif" font-size="14.5" text-anchor="middle" font-weight="normal" fill="#1d1d1d" transform="translate(536 605.4250773993808)" stroke="#1d1d1d" stroke-width="0.45">9.64</text>
<text x="0" y="0" font-family="Liberation Serif" font-size="14.5" text-anchor="middle" font-weight="bold" fill="#1d1d1d" transform="translate(303 625.3876160990711) scale(0.93 1)" stroke="#1d1d1d" stroke-width="0.1">9</text>
<text x="0" y="0" font-family="Liberation Serif" font-size="14.5" text-anchor="middle" font-weight="bold" fill="#1d1d1d" transform="translate(412 624.1727554179566) scale(0.93 1)" stroke="#1d1d1d" stroke-width="0.1">baie</text>
<text x="0" y="0" font-family="Liberation Serif" font-size="14.5" text-anchor="middle" font-weight="normal" fill="#1d1d1d" transform="translate(536 622.7907120743033)" stroke="#1d1d1d" stroke-width="0.45">3.06</text>
<text x="0" y="0" font-family="Liberation Serif" font-size="14.5" text-anchor="middle" font-weight="bold" fill="#1d1d1d" transform="translate(303 643.4188854489164) scale(0.93 1)" stroke="#1d1d1d" stroke-width="0.1">10</text>
<text x="0" y="0" font-family="Liberation Serif" font-size="14.5" text-anchor="middle" font-weight="bold" fill="#1d1d1d" transform="translate(412 642.001547987616) scale(0.93 1)" stroke="#1d1d1d" stroke-width="0.1">cameră</text>
<text x="0" y="0" font-family="Liberation Serif" font-size="14.5" text-anchor="middle" font-weight="normal" fill="#1d1d1d" transform="translate(536 640.3891640866873)" stroke="#1d1d1d" stroke-width="0.45">11.43</text>
<text x="0" y="0" font-family="Liberation Serif" font-size="14.5" text-anchor="middle" font-weight="bold" fill="#1d1d1d" transform="translate(303 661.5761609907121) scale(0.93 1)" stroke="#1d1d1d" stroke-width="0.1">11</text>
<text x="0" y="0" font-family="Liberation Serif" font-size="14.5" text-anchor="middle" font-weight="bold" fill="#1d1d1d" transform="translate(412 660.3275541795665) scale(0.93 1)" stroke="#1d1d1d" stroke-width="0.1">loggie</text>
<text x="0" y="0" font-family="Liberation Serif" font-size="14.7" text-anchor="middle" font-weight="normal" fill="#1d1d1d" transform="translate(375.5 678.1795665634675)" stroke="#1d1d1d" stroke-width="0.45">Total suprafaţă utilă</text>
<text x="0" y="0" font-family="Liberation Serif" font-size="14.5" text-anchor="middle" font-weight="normal" fill="#1d1d1d" transform="translate(536 676.3907120743033)" stroke="#1d1d1d" stroke-width="0.45">58.23</text>
<text x="0" y="0" font-family="Liberation Serif" font-size="14.7" text-anchor="middle" font-weight="normal" fill="#1d1d1d" transform="translate(375.5 696.5439628482972)" stroke="#1d1d1d" stroke-width="0.45">Suprafata loggie</text>
<text x="0" y="0" font-family="Liberation Serif" font-size="14.5" text-anchor="middle" font-weight="normal" fill="#1d1d1d" transform="translate(536 694.556346749226)" stroke="#1d1d1d" stroke-width="0.45">4.92</text>
<text x="0" y="0" font-family="Liberation Serif" font-size="14.7" text-anchor="middle" font-weight="normal" fill="#1d1d1d" transform="translate(375.5 714.5117647058823)" stroke="#1d1d1d" stroke-width="0.45">Total</text>
<text x="0" y="0" font-family="Liberation Serif" font-size="14.5" text-anchor="middle" font-weight="normal" fill="#1d1d1d" transform="translate(536 712.6235294117647)" stroke="#1d1d1d" stroke-width="0.45">63.15</text>
</g>
</svg></body></html>
